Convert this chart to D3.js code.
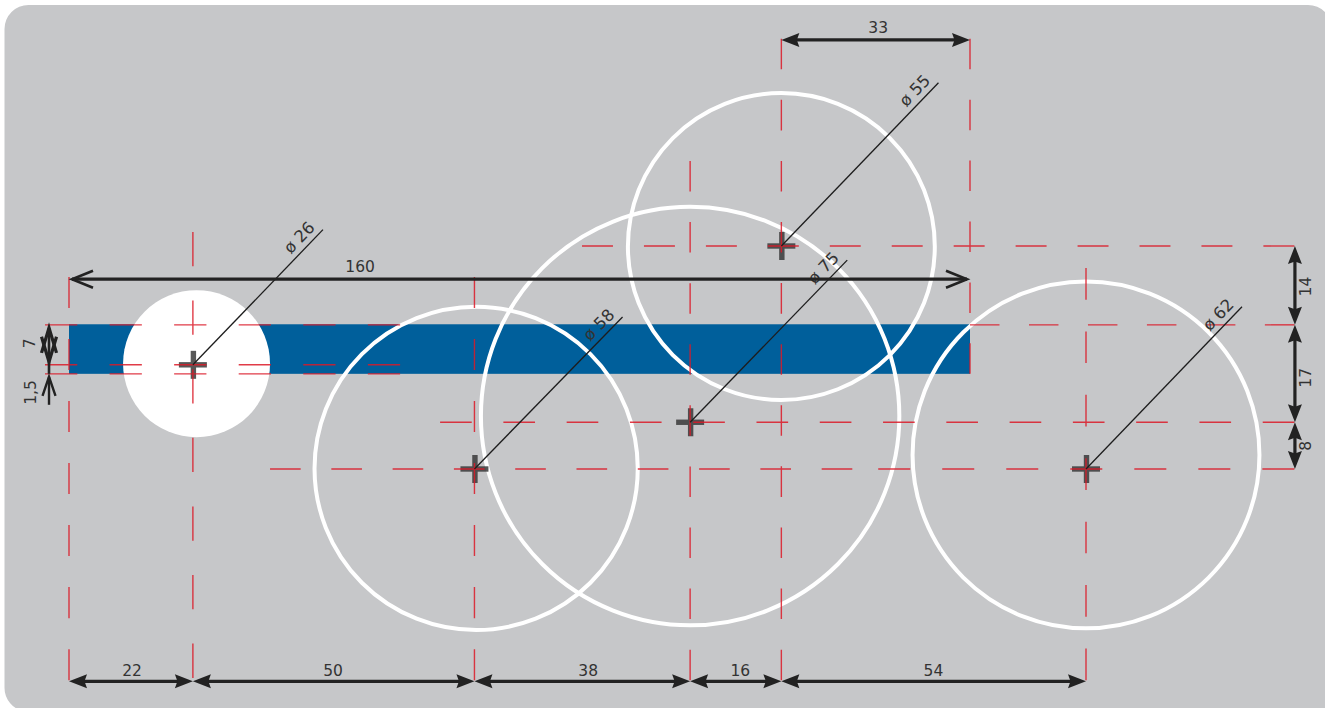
<!DOCTYPE html>
<html><head><meta charset="utf-8">
<script src="https://cdn.jsdelivr.net/npm/d3@7/dist/d3.min.js"></script>
<style>html,body{margin:0;padding:0;background:#fff}svg{display:block}text{font-family:"DejaVu Sans",sans-serif;font-size:15.5px;fill:#333}</style>
</head><body><div id="c"></div>
<script>
// All lengths are in drawing millimetres
const barExtent = [0, 160], barLevels = [13.9, 22.7];
const holeLabels = ["ø 26", "ø 58", "ø 75", "ø 55", "ø 62"];
const holeDiameters = [26.1, 57.4, 74.3, 54.5, 61.6];
const holeCx = [22.65, 72.3, 110.3, 126.5, 180.6];
const holeCy = [20.9, 39.5, 30.2, 0.1, 37.1];
const crossX = [22, 72, 110.3, 126.5, 180.6];
const crossY = [21.1, 39.6, 31.3, 0, 39.6];
const leaderDx = [23.1, 26.3, 27.9, 27.9, 27.7];
const leaderDy = [24, 27, 28.8, 29, 28.8];

const redH = [[0, 91.1, 217.6, 12], [14, -4.26, 58.8, 6], [14, 160, 217.6, 6], [21.1, -4.26, 58.8, 6], [22.7, -4.26, 58.8, 6],
              [31.3, 65.9, 217.6, 14], [39.6, 35.7, 139.1, 10], [39.6, 143.7, 217.6, 7]];
const redV = [[0, 5.5, 77.1, 7], [22, -2.5, 76.7, 7], [72, 5.5, 77.1, 7], [110.3, -15.1, 77.1, 9],
              [126.5, -36.8, 77.1, 11], [160, -36.8, 22.7, 6], [180.6, 3.9, 77.1, 7]];

const chainStops = [0, 22, 72, 110.3, 126.5, 180.6];
const chainLabels = ["22", "50", "38", "16", "54"];
const chainLabelX = [11.2, 46.9, 92.2, 119.2, 153.5];
const chainLevel = 77.3;
const topSpan = [126.5, 160], topLabel = "33", topLabelX = 143.7, topLevel = -36.6;
const overall = [0, 160], overallLabel = "160", overallLabelX = 51.7, overallLevel = 5.9;
const sideStops = [0, 14, 31.3, 39.6];
const sideLabels = ["14", "17", "8"];
const sideLabelY = [7.2, 23.4, 35.5];
const sideX = 217.7;
const smallX = -3.55;
const smallSpan = [14, 21.1], smallLabel = "7", smallLabelY = 17.3;
const tinySpan = [22.7, 28.2], tinyLabel = "1,5", tinyLabelY = 26;

const W = 1325, H = 708;
const x = d3.scaleLinear().domain([0, 160]).range([69, 970]);
const y = d3.scaleLinear().domain([0, 160]).range([246, 246 + 901]);
const len = d3.scaleLinear().domain([0, 160]).range([0, 901]);

const svg = d3.select("#c").append("svg").attr("width", W).attr("height", H);

// panel
const p = d3.path();
p.moveTo(4.5, 29); p.arcTo(4.5, 5, 28.5, 5, 24); p.lineTo(1308, 5); p.arcTo(1332, 5, 1332, 29, 24);
p.lineTo(1332, 712); p.lineTo(28.5, 712); p.arcTo(4.5, 708, 4.5, 684, 24); p.closePath();
svg.append("path").attr("d", p.toString()).attr("fill", "#c6c7c9");

// bar
svg.append("rect").attr("x", x(barExtent[0])).attr("width", x(barExtent[1]) - x(barExtent[0]))
  .attr("y", y(barLevels[0])).attr("height", y(barLevels[1]) - y(barLevels[0])).attr("fill", "#005f9b");

// holes
const holes = holeDiameters.map((d, i) => ({ d, cx: holeCx[i], cy: holeCy[i], first: i === 0 }));
svg.append("g").selectAll("circle").data(holes).join("circle")
  .attr("cx", d => x(d.cx)).attr("cy", d => y(d.cy)).attr("r", d => len(d.d / 2))
  .attr("fill", d => d.first ? "#fff" : "none").attr("stroke", d => d.first ? "none" : "#fff").attr("stroke-width", 4);

// crosses
const crossG = svg.append("g").attr("stroke", "#3a3a3a").attr("stroke-width", 5.4).attr("opacity", 0.85);
crossX.forEach((cx, i) => {
  crossG.append("path").attr("d", d3.line()([[x(cx) - 14, y(crossY[i])], [x(cx) + 14, y(crossY[i])]]));
  crossG.append("path").attr("d", d3.line()([[x(cx) + 0.5, y(crossY[i]) - 14], [x(cx) + 0.5, y(crossY[i]) + 14]]));
});

// red centre lines
const redG = svg.append("g").attr("stroke", "#dc1a28").attr("stroke-width", 1.4).attr("opacity", 0.85).attr("fill", "none");
function dash(l, n) { const d = l / (2 * n - 1); return d + " " + d; }
redG.selectAll("path.h").data(redH).join("path").attr("class", "h")
  .attr("d", d => d3.line()([[x(d[1]), y(d[0])], [x(d[2]), y(d[0])]]))
  .attr("stroke-dasharray", d => dash(x(d[2]) - x(d[1]), d[3]));
redG.selectAll("path.v").data(redV).join("path").attr("class", "v")
  .attr("d", d => d3.line()([[x(d[0]), y(d[1])], [x(d[0]), y(d[2])]]))
  .attr("stroke-dasharray", d => dash(y(d[2]) - y(d[1]), d[3]));

// leaders
crossX.forEach((cx, i) => {
  const x0 = x(cx), y0 = y(crossY[i]), x1 = x0 + len(leaderDx[i]), y1 = y0 - len(leaderDy[i]);
  svg.append("path").attr("d", d3.line()([[x0, y0], [x1, y1]])).attr("stroke", "#1d1d1d").attr("stroke-width", 1.3);
  const a = Math.atan2(y0 - y1, x1 - x0) * 180 / Math.PI;
  svg.append("text").text(holeLabels[i]).attr("text-anchor", "end").style("font-size", "16.5px")
    .attr("transform", `translate(${x1},${y1}) rotate(${-a}) translate(-4,-6)`);
});

// arrows
const ink = "#222";
const arrows = svg.append("g");
function solidHead(px, py, ang, L = 18, w = 7) {
  arrows.append("path").attr("fill", ink)
    .attr("transform", `translate(${px},${py}) rotate(${ang})`)
    .attr("d", `M0,0L${-L},${-w}L${-L + 2.5},0L${-L},${w}Z`);
}
function openHead(px, py, ang, L = 21, w = 8.5, sw = 2.6) {
  arrows.append("path").attr("fill", "none").attr("stroke", ink).attr("stroke-width", sw)
    .attr("transform", `translate(${px},${py}) rotate(${ang}) translate(-3,0)`)
    .attr("d", `M${-L},${-w}L0,0L${-L},${w}`);
}
function shaft(a, b, sw = 3.2) {
  arrows.append("path").attr("d", d3.line()([a, b])).attr("stroke", ink).attr("stroke-width", sw);
}
function hSolid(a, b, lvl) {
  shaft([x(a) + 8, y(lvl)], [x(b) - 8, y(lvl)]);
  solidHead(x(a), y(lvl), 180); solidHead(x(b), y(lvl), 0);
}
function vSolid(a, b, px) {
  shaft([px, y(a) + 8], [px, y(b) - 8]);
  solidHead(px, y(a), -90); solidHead(px, y(b), 90);
}
d3.pairs(chainStops).forEach(([a, b]) => hSolid(a, b, chainLevel));
hSolid(topSpan[0], topSpan[1], topLevel);
shaft([x(overall[0]) + 3, y(overallLevel)], [x(overall[1]) - 3, y(overallLevel)]);
openHead(x(overall[0]), y(overallLevel), 180); openHead(x(overall[1]), y(overallLevel), 0);
d3.pairs(sideStops).forEach(([a, b]) => vSolid(a, b, x(sideX)));

// small dimensions at the left of the bar
const sx = x(smallX);
shaft([sx, y(smallSpan[0]) + 3], [sx, y(smallSpan[1]) + 9], 2.6);
openHead(sx, y(smallSpan[0]), -90, 25, 7.5, 3.2);
openHead(sx, y(smallSpan[1]), 90, 25, 7.5, 3.2);
shaft([sx, y(tinySpan[0]) + 3], [sx, y(tinySpan[1])], 2.4);
openHead(sx, y(tinySpan[0]), -90, 19, 6.5, 2.4);

// labels
const tg = svg.append("g");
chainLabels.forEach((t, i) => tg.append("text").text(t).attr("text-anchor", "middle").attr("x", x(chainLabelX[i])).attr("y", y(chainLevel) - 5));
tg.append("text").text(topLabel).attr("text-anchor", "middle").attr("x", x(topLabelX)).attr("y", y(topLevel) - 7);
tg.append("text").text(overallLabel).attr("text-anchor", "middle").attr("x", x(overallLabelX)).attr("y", y(overallLevel) - 7);
function vText(t, px, py) {
  tg.append("text").text(t).attr("text-anchor", "middle").attr("transform", `translate(${px},${py}) rotate(-90)`);
}
sideLabels.forEach((t, i) => vText(t, x(sideX) + 16, y(sideLabelY[i])));
vText(smallLabel, x(smallX) - 14, y(smallLabelY));
vText(tinyLabel, x(smallX) - 13, y(tinyLabelY));
</script></body></html>
